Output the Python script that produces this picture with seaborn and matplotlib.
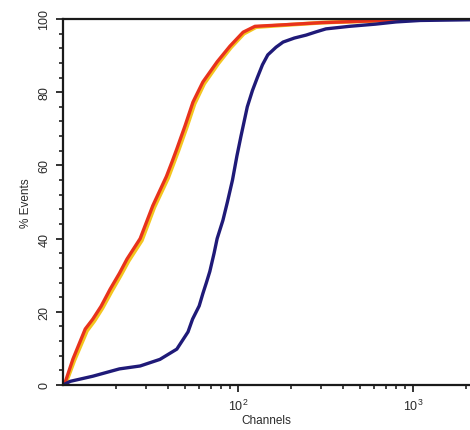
import matplotlib
matplotlib.use("Agg")
import matplotlib.pyplot as plt
import matplotlib.ticker as mticker
import seaborn as sns

# cumulative % events vs channel
red_channels = [10, 10.3, 11.4, 13.4, 14.8, 16.5, 18.6, 21, 23.2, 27.6, 32.6, 39, 42, 44.7, 49.8, 55.3, 63, 76, 90, 107, 125, 180, 300, 600, 1100, 2200]
red_percent = [0, 0.8, 7.1, 15.3, 18, 21.5, 26.2, 30.5, 34.4, 40, 49, 57, 61, 64.5, 70.8, 77.3, 82.8, 88.3, 92.6, 96.4, 98, 98.4, 99, 99.5, 100, 100]

yellow_channels = [10, 10.4, 11.6, 13.7, 15.1, 16.8, 19, 21.4, 23.7, 28.2, 33.2, 39.8, 42.8, 45.6, 50.8, 56.4, 64, 77, 91, 108, 127, 180, 300, 600, 1100, 2200]
yellow_percent = [0, 0.6, 6.7, 14.8, 17.5, 21, 25.7, 30, 33.9, 39.5, 48.5, 56.5, 60.5, 64, 70.3, 76.8, 82.3, 87.8, 92.2, 96, 97.8, 98.3, 99, 99.5, 100, 100]

blue_channels = [10, 11, 14.8, 21, 27.6, 35.8, 44.7, 51.8, 55, 60, 63, 66, 69, 73, 76, 82, 87, 93, 98.6, 104, 113, 121, 129, 138, 148, 165, 181, 210, 245, 280, 318, 434, 612, 800, 1100, 2200]
blue_percent = [0, 1, 2.4, 4.4, 5.2, 7, 9.8, 14.5, 18, 21.6, 25, 28, 31, 36, 40, 45, 50, 56, 62.6, 68, 76, 80.5, 84, 87.5, 90.2, 92.3, 93.7, 94.8, 95.6, 96.5, 97.3, 98, 98.6, 99.2, 99.6, 99.8]

y_ticks = [0, 20, 40, 60, 80, 100]

sns.set_style("ticks")
plt.rcParams["font.family"] = ["Liberation Sans", "DejaVu Sans"]

fig = plt.figure(figsize=(4.7, 4.31), dpi=100)
ax = fig.add_axes([63 / 470, 1 - 386 / 431, 1 - 63 / 470, (386 - 20) / 431])

sns.lineplot(x=yellow_channels, y=yellow_percent, ax=ax, color="#f3c51e", lw=2.8, sort=False)
sns.lineplot(x=red_channels, y=red_percent, ax=ax, color="#e8321c", lw=2.4, sort=False)
sns.lineplot(x=blue_channels, y=blue_percent, ax=ax, color="#1f1a78", lw=2.4, sort=False)

ax.set_xscale("log")
ax.set_xlim(10, 10 ** (1 + (470 - 63) / 175))
ax.set_ylim(0, 100)

ax.xaxis.set_major_locator(mticker.FixedLocator([100, 1000]))
ax.xaxis.set_major_formatter(mticker.LogFormatterSciNotation())
ax.xaxis.set_minor_locator(mticker.LogLocator(base=10, subs=range(2, 10)))
ax.xaxis.set_minor_formatter(mticker.NullFormatter())

ax.set_yticks(y_ticks)
ax.yaxis.set_minor_locator(mticker.MultipleLocator(4))
for lab in ax.get_yticklabels():
    lab.set_rotation(90)
    lab.set_va("center")

ax.tick_params(axis="both", which="major", direction="out", length=5, width=1.3,
               labelsize=9, color="#222222", labelcolor="#2a2a2a", pad=4)
ax.tick_params(axis="both", which="minor", direction="out", length=3, width=1.2,
               color="#222222")

for side in ["left", "bottom", "top"]:
    ax.spines[side].set_linewidth(1.6)
    ax.spines[side].set_color("#1a1a1a")
ax.spines["right"].set_visible(False)

ax.set_xlabel("Channels", fontsize=8.5, color="#2a2a2a", labelpad=1)
ax.set_ylabel("% Events", fontsize=8.5, color="#2a2a2a", labelpad=5)

fig.savefig("out.png", dpi=100)
